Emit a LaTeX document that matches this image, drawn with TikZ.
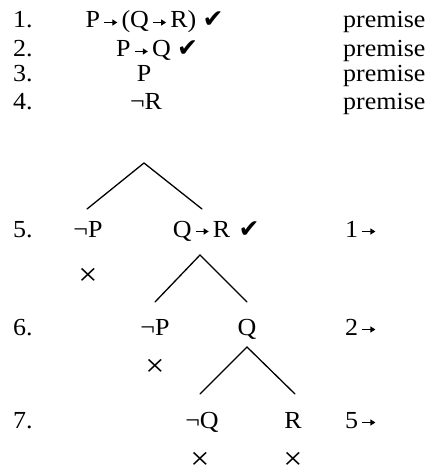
\documentclass[tikz,border=0pt]{standalone}
\usepackage{fontspec}
\usetikzlibrary{arrows.meta}
\setmainfont{Liberation Serif}[FakeStretch=1.06]
\newfontfamily\symf{DejaVu Sans}
\newcommand\ar{\hspace{3.5pt}\tikz[baseline=0pt,x=1pt,y=1pt]{\draw[line width=1.4pt,-{Triangle[length=5pt,width=6pt]}] (0,5.5) -- (13,5.5);}\hspace{3.5pt}}
\newcommand\chk{{\symf\fontsize{25}{28}\selectfont ✔}}
\newcommand\crs{{\fontsize{32}{34}\selectfont ×}}
\begin{document}
\begin{tikzpicture}[x=1pt,y=-1pt,
  every node/.style={inner sep=0pt, font=\fontsize{24.5}{28}\selectfont},
  tl/.style={line width=1.3pt, line cap=round, line join=miter},
  fm/.style={anchor=base},
  xm/.style={anchor=center},
  lft/.style={anchor=base west}]
\useasboundingbox (0,0) rectangle (430,470);
% line numbers
\node[lft] (n1) at (13,28) {1.};
\node[lft] (n2) at (13,57) {2.};
\node[lft] (n3) at (13,82) {3.};
\node[lft] (n4) at (13,110) {4.};
\node[lft] (n5) at (13,237) {5.};
\node[lft] (n6) at (13,335) {6.};
\node[lft] (n7) at (13,428) {7.};
% justifications
\node[lft] (j1) at (343,28) {premise};
\node[lft] (j2) at (343,57) {premise};
\node[lft] (j3) at (343,82) {premise};
\node[lft] (j4) at (343,110) {premise};
\node[lft] (j5) at (345,237) {1\ar};
\node[lft] (j6) at (345,335) {2\ar};
\node[lft] (j7) at (345,428) {5\ar};
% formulas
\node[fm] (f1) at (141,28) {P\ar(Q\ar R)};
\node[lft, xshift=6pt] (c1) at (f1.base east) {\chk};
\node[fm] (f2) at (143.5,57) {P\ar Q};
\node[lft, xshift=6pt] (c2) at (f2.base east) {\chk};
\node[fm] (f3) at (144,82) {P};
\node[fm] (f4) at (146,110) {¬R};
\node[fm] (f5a) at (88,237) {¬P};
\node[fm] (f5b) at (201.5,237) {Q\ar R};
\node[lft, xshift=8pt] (c5) at (f5b.base east) {\chk};
\node[xm] (x5) at (88,277) {\crs};
\node[fm] (f6a) at (155,335) {¬P};
\node[fm] (f6b) at (247,335) {Q};
\node[xm] (x6) at (155,368) {\crs};
\node[fm] (f7a) at (202,428) {¬Q};
\node[fm] (f7b) at (293,428) {R};
\node[xm] (x7a) at (200,461) {\crs};
\node[xm] (x7b) at (293,461) {\crs};
% branches
\coordinate (t1a) at (144,163);
\coordinate (t1l) at (87,209);
\coordinate (t1r) at (202,209);
\coordinate (t2a) at (200,255);
\coordinate (t2l) at (155,302);
\coordinate (t2r) at (247,302);
\coordinate (t3a) at (247,347);
\coordinate (t3l) at (200,394);
\coordinate (t3r) at (295,394);
\draw[tl] (t1l) -- (t1a) -- (t1r);
\draw[tl] (t2l) -- (t2a) -- (t2r);
\draw[tl] (t3l) -- (t3a) -- (t3r);
\end{tikzpicture}
\end{document}
